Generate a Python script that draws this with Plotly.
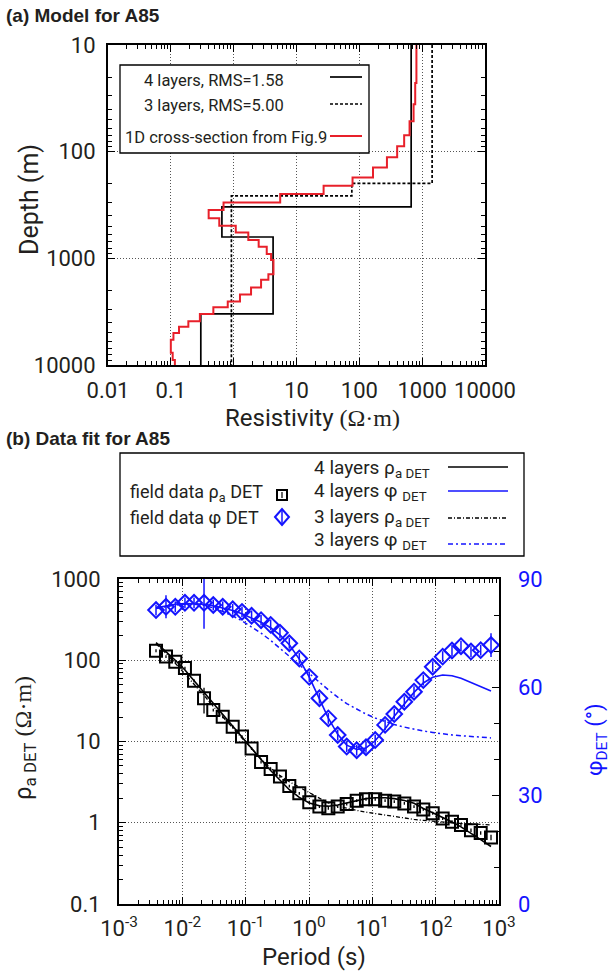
import plotly.graph_objects as go

W, H = 612, 975
def fx(x): return x / W
def fy(y): return 1 - y / H

FONT = "Roboto, Liberation Sans, sans-serif"
BLUE = "#1414ff"
RED = "#e8202a"

# ---------------- Panel (a) data: layered models ----------------
layers4_rho = [668, 0.65, 4.24, 0.30]
layers4_top = [10, 330, 631, 3310]
layers3_rho = [1440, 76, 0.92]
layers3_top = [10, 198, 260]
fig9_rho = [810, 775, 730, 630, 517, 400, 275, 165, 78, 27,
            5.5, 0.69, 0.40, 0.59, 1.08, 1.71, 2.5, 3.36, 3.94, 4.3,
            3.57, 2.73, 1.89, 1.26, 0.805, 0.475, 0.29, 0.19, 0.135, 0.11,
            0.10, 0.107, 0.116]
fig9_top = [10, 22.7, 36, 52, 70, 89, 113, 141, 175, 209,
            250, 300, 352, 422, 494, 573, 672, 780, 910, 1035,
            1410, 1590, 1880, 2180, 2540, 2880, 3330, 3890, 4370, 5020,
            5800, 7680, 8970]
model_bottom = 10000

# ---------------- Panel (b) data: sounding curves ----------------
periods = [0.00384, 0.00552, 0.00774, 0.0110, 0.0153, 0.0220, 0.0308, 0.0434, 0.0624, 0.0875,
           0.124, 0.175, 0.248, 0.348, 0.489, 0.703, 1.01, 1.46, 2.02, 2.84,
           3.94, 5.66, 7.94, 11.1, 15.9, 22.2, 32.0, 45.5, 63.8, 89.8,
           129, 181, 251, 361, 514, 748]
rho_obs = [131, 111, 96, 80, 56, 34, 24.4, 20.2, 15.2, 11.5,
           8.2, 5.6, 4.6, 3.7, 2.83, 2.30, 1.79, 1.58, 1.51, 1.58,
           1.70, 1.87, 1.95, 1.95, 1.87, 1.82, 1.73, 1.58, 1.46, 1.31,
           1.13, 1.03, 0.94, 0.81, 0.75, 0.66]
rho_err_pct = [4, 4, 4, 4, 4, 35, 4, 4, 4, 4,
               4, 4, 4, 4, 4, 4, 4, 4, 4, 4,
               4, 4, 4, 4, 4, 4, 4, 4, 4, 4,
               4, 4, 4, 5, 5, 8]
phase_obs = [81.4, 82.3, 82.3, 83.4, 83.4, 83.4, 82.8, 82.3, 81.6, 80.9,
             79.8, 78.6, 77.3, 75.1, 72.2, 68.0, 62.9, 57.0, 51.4, 46.8,
             43.6, 42.6, 43.4, 45.4, 49.6, 52.6, 56.0, 58.8, 62.0, 65.7,
             68.5, 70.2, 71.4, 69.9, 70.3, 71.7]
phase_err = [1.5, 3.2, 1.5, 1.5, 1.5, 7.2, 1.5, 1.5, 1.5, 1.5,
             1.5, 1.5, 1.5, 1.5, 1.5, 1.5, 1.5, 1.5, 1.5, 1.5,
             1.5, 1.5, 1.5, 1.5, 1.5, 1.5, 1.5, 1.5, 1.5, 1.5,
             1.5, 1.5, 1.5, 1.5, 1.5, 3.3]
rho_4layer = [165, 128, 100, 76, 56, 40, 29, 21.5, 15.5, 11.3,
              8.2, 6.0, 4.4, 3.3, 2.55, 2.05, 1.75, 1.62, 1.60, 1.65,
              1.75, 1.88, 1.98, 2.03, 2.03, 1.98, 1.88, 1.74, 1.50, 1.33,
              1.17, 1.02, 0.89, 0.75, 0.62, 0.51]
rho_3layer = [160, 122, 92, 68, 50, 37, 27, 20, 14.8, 11.0,
              8.2, 6.1, 4.7, 3.8, 3.2, 2.75, 2.35, 2.0, 1.75, 1.6,
              1.5, 1.42, 1.35, 1.30, 1.24, 1.18, 1.13, 1.10, 1.07, 1.04,
              1.02, 1.0, 0.98, 0.97, 0.955, 0.94]
phase_4layer = [82.0, 82.6, 83.0, 83.2, 83.2, 83.0, 82.6, 82.0, 81.3, 80.4,
                79.3, 78.0, 76.5, 74.5, 71.8, 67.8, 62.8, 57.0, 51.5, 47.0,
                44.0, 42.8, 43.2, 45.2, 48.5, 52.0, 55.5, 58.6, 61.2, 62.8,
                63.4, 63.2, 62.5, 61.4, 60.2, 59.0]
phase_3layer = [81.8, 82.4, 82.8, 83.0, 83.0, 82.7, 82.0, 81.0, 79.8, 78.4,
                76.8, 75.0, 73.0, 70.9, 68.6, 66.2, 63.8, 61.5, 59.3, 57.3,
                55.5, 54.0, 52.6, 51.5, 50.5, 49.7, 49.0, 48.4, 47.9, 47.5,
                47.1, 46.8, 46.6, 46.4, 46.2, 46.0]

xa_ticks = [0.01, 0.1, 1, 10, 100, 1000, 10000]
xa_text = ["0.01", "0.1", "1", "10", "100", "1000", "10000"]
ya_ticks = [10, 100, 1000, 10000]
ya_text = ["10", "100", "1000", "10000"]
xb_ticks = [1e-3, 1e-2, 1e-1, 1, 10, 100, 1000]
xb_text = ["10<sup>-3</sup>", "10<sup>-2</sup>", "10<sup>-1</sup>", "10<sup>0</sup>",
           "10<sup>1</sup>", "10<sup>2</sup>", "10<sup>3</sup>"]
yb_ticks = [0.1, 1, 10, 100, 1000]
yb_text = ["0.1", "1", "10", "100", "1000"]
phase_ticks = [0, 30, 60, 90]

fig = go.Figure()

# ---- Panel (a) traces
fig.add_trace(go.Scatter(x=layers4_rho + [layers4_rho[-1]], y=layers4_top + [model_bottom],
                         mode="lines", line=dict(color="black", width=1.7, shape="vh"),
                         xaxis="x", yaxis="y", showlegend=False))
fig.add_trace(go.Scatter(x=layers3_rho + [layers3_rho[-1]], y=layers3_top + [model_bottom],
                         mode="lines", line=dict(color="black", width=1.7, shape="vh", dash="3px,2px"),
                         xaxis="x", yaxis="y", showlegend=False))
fig.add_trace(go.Scatter(x=fig9_rho + [fig9_rho[-1]], y=fig9_top + [model_bottom],
                         mode="lines", line=dict(color=RED, width=2, shape="vh"),
                         xaxis="x", yaxis="y", showlegend=False))

# ---- Panel (b) traces
fig.add_trace(go.Scatter(x=periods, y=rho_3layer, mode="lines",
                         line=dict(color="black", width=1.3, dash="4px,2px,1px,2px"),
                         xaxis="x2", yaxis="y2", showlegend=False))
fig.add_trace(go.Scatter(x=periods, y=phase_3layer, mode="lines",
                         line=dict(color=BLUE, width=1.5, dash="5px,3px,2px,3px"),
                         xaxis="x2", yaxis="y3", showlegend=False))
fig.add_trace(go.Scatter(x=periods, y=rho_4layer, mode="lines", line=dict(color="black", width=1.6),
                         xaxis="x2", yaxis="y2", showlegend=False))
fig.add_trace(go.Scatter(x=periods, y=phase_4layer, mode="lines", line=dict(color=BLUE, width=1.6),
                         xaxis="x2", yaxis="y3", showlegend=False))
rho_plus = [r * p / 100 for r, p in zip(rho_obs, rho_err_pct)]
fig.add_trace(go.Scatter(x=periods, y=rho_obs, mode="markers",
                         marker=dict(symbol="square-open", size=12, color="black", line=dict(width=2)),
                         error_y=dict(type="data", array=rho_plus, arrayminus=rho_plus, symmetric=False,
                                      color="black", thickness=1.3, width=0),
                         xaxis="x2", yaxis="y2", showlegend=False))
fig.add_trace(go.Scatter(x=periods, y=phase_obs, mode="markers",
                         marker=dict(symbol="diamond-open", size=12, color=BLUE, line=dict(width=2)),
                         error_y=dict(type="data", array=phase_err, color=BLUE, thickness=1.5, width=0),
                         xaxis="x2", yaxis="y3", showlegend=False))

axis_common = dict(showline=True, linecolor="black", linewidth=2, ticks="inside", ticklen=7,
                   tickcolor="black", tickwidth=1.2, showgrid=True, gridcolor="#555",
                   griddash="1px,2px", gridwidth=1, zeroline=False, automargin=False, tickangle=0,
                   tickfont=dict(family=FONT, size=22, color="#231f20"))
minor_log = dict(ticks="inside", ticklen=4, tickcolor="black", dtick="D1", showgrid=False)

fig.update_layout(
    width=W, height=H, margin=dict(l=0, r=0, t=0, b=0, pad=0, autoexpand=False),
    paper_bgcolor="white", plot_bgcolor="white", showlegend=False,
    xaxis=dict(axis_common, type="log", range=[-2, 4], domain=[fx(108), fx(485)], anchor="y",
               tickvals=xa_ticks, ticktext=xa_text, mirror="ticks", minor=minor_log, ticklabelstandoff=5),
    yaxis=dict(axis_common, type="log", range=[4, 1], domain=[fy(365), fy(45)], anchor="x",
               tickvals=ya_ticks, ticktext=ya_text, mirror="ticks", minor=minor_log, ticklabelstandoff=6),
    xaxis2=dict(axis_common, type="log", range=[-3, 3], domain=[fx(119), fx(499)], anchor="y2",
                tickvals=xb_ticks, ticktext=xb_text, mirror="ticks", minor=minor_log, ticklabelstandoff=4),
    yaxis2=dict(axis_common, type="log", range=[-1, 3], domain=[fy(904), fy(579)], anchor="x2",
                tickvals=yb_ticks, ticktext=yb_text, mirror=True, minor=minor_log, ticklabelstandoff=12),
    yaxis3=dict(range=[0, 90], overlaying="y2", anchor="x2", side="right", showgrid=False,
                zeroline=False, showline=False, ticks="inside", ticklen=7, tickcolor="black",
                automargin=False, tickangle=0,
                tickvals=phase_ticks, tickfont=dict(family=FONT, size=22, color=BLUE),
                minor=dict(ticks="inside", ticklen=5, dtick=10, tickcolor="black"),
                ticklabelstandoff=18),
)

shapes = []
annotations = []

def text(x, y, s, size, color="#231f20", anchor="left", family=FONT, angle=0):
    annotations.append(dict(x=fx(x), y=fy(y), xref="paper", yref="paper", text=s, showarrow=False,
                            xanchor=anchor, yanchor="middle", textangle=angle, borderpad=0,
                            font=dict(family=family, size=size, color=color)))

def hline(x0, x1, y, color, width, dash="solid"):
    shapes.append(dict(type="line", xref="paper", yref="paper", x0=fx(x0), x1=fx(x1), y0=fy(y), y1=fy(y),
                       line=dict(color=color, width=width, dash=dash)))

# Titles
text(5, 16, "<b>(a) Model for A85</b>", 19, family="Liberation Sans, Arial, sans-serif")
text(5, 438, "<b>(b) Data fit for A85</b>", 19, family="Liberation Sans, Arial, sans-serif")

# Axis titles
text(30, 200, "Depth (m)", 25, anchor="center", angle=-90)
text(312, 418, "Resistivity <span style='font-family:Liberation Serif, serif'>(Ω·m)</span>", 24, anchor="center")
text(24, 738, "ρ<sub>a DET</sub> <span style='font-family:Liberation Serif, serif'>(Ω·m)</span>", 24,
     anchor="center", angle=-90)
text(596, 740, "φ<sub>DET</sub> (°)", 22, color=BLUE, anchor="center", angle=-90)
text(314, 957, "Period (s)", 24, anchor="center")

# Legend (a)
shapes.append(dict(type="rect", xref="paper", yref="paper", x0=fx(120), x1=fx(369), y0=fy(153), y1=fy(65),
                   fillcolor="white", line=dict(color="black", width=1.3), layer="above"))
text(143, 80, "4 layers, RMS=1.58", 16.5)
text(143, 105, "3 layers, RMS=5.00", 16.5)
text(124, 137, "1D cross-section from Fig.9", 16.5)
hline(330, 362, 77, "black", 1.7)
hline(330, 362, 104, "black", 1.7, "3px,2px")
hline(330, 362, 136, RED, 2)

# Legend (b)
shapes.append(dict(type="rect", xref="paper", yref="paper", x0=fx(120), x1=fx(524), y0=fy(556), y1=fy(453),
                   fillcolor="white", line=dict(color="black", width=1.3), layer="above"))
text(313, 468, "4 layers ρ<sub>a DET</sub>", 19)
text(313, 492, "4 layers φ <sub>DET</sub>", 19)
text(313, 517, "3 layers ρ<sub>a DET</sub>", 19)
text(313, 540, "3 layers φ <sub>DET</sub>", 19)
text(129, 493, "field data ρ<sub>a</sub> DET", 18)
text(129, 517, "field data φ DET", 18)
hline(448, 508, 467, "black", 1.6)
hline(448, 508, 491, BLUE, 1.6)
hline(448, 508, 518, "black", 1.3, "4px,2px,1px,2px")
hline(448, 508, 544, BLUE, 1.5, "5px,3px,2px,3px")
shapes.append(dict(type="rect", xref="paper", yref="paper", x0=fx(277), x1=fx(287), y0=fy(500), y1=fy(490),
                   line=dict(color="black", width=2), layer="above"))
shapes.append(dict(type="line", xref="paper", yref="paper", x0=fx(282), x1=fx(282), y0=fy(498), y1=fy(492),
                   line=dict(color="black", width=1.2), layer="above"))
dx, dy, cx, cy = 7, 8, 282, 517
shapes.append(dict(type="path", xref="paper", yref="paper",
                   path=f"M {fx(cx-dx)},{fy(cy)} L {fx(cx)},{fy(cy-dy)} L {fx(cx+dx)},{fy(cy)} L {fx(cx)},{fy(cy+dy)} Z",
                   line=dict(color=BLUE, width=2), layer="above"))
shapes.append(dict(type="line", xref="paper", yref="paper", x0=fx(cx), x1=fx(cx), y0=fy(cy+dy), y1=fy(cy-dy),
                   line=dict(color=BLUE, width=1.5), layer="above"))

fig.update_layout(shapes=shapes, annotations=annotations)
fig.write_html("out.html", config={"displayModeBar": False},
               post_script="document.body.style.margin='0px';document.body.style.padding='0px';"
                           "document.documentElement.style.overflow='hidden';")
